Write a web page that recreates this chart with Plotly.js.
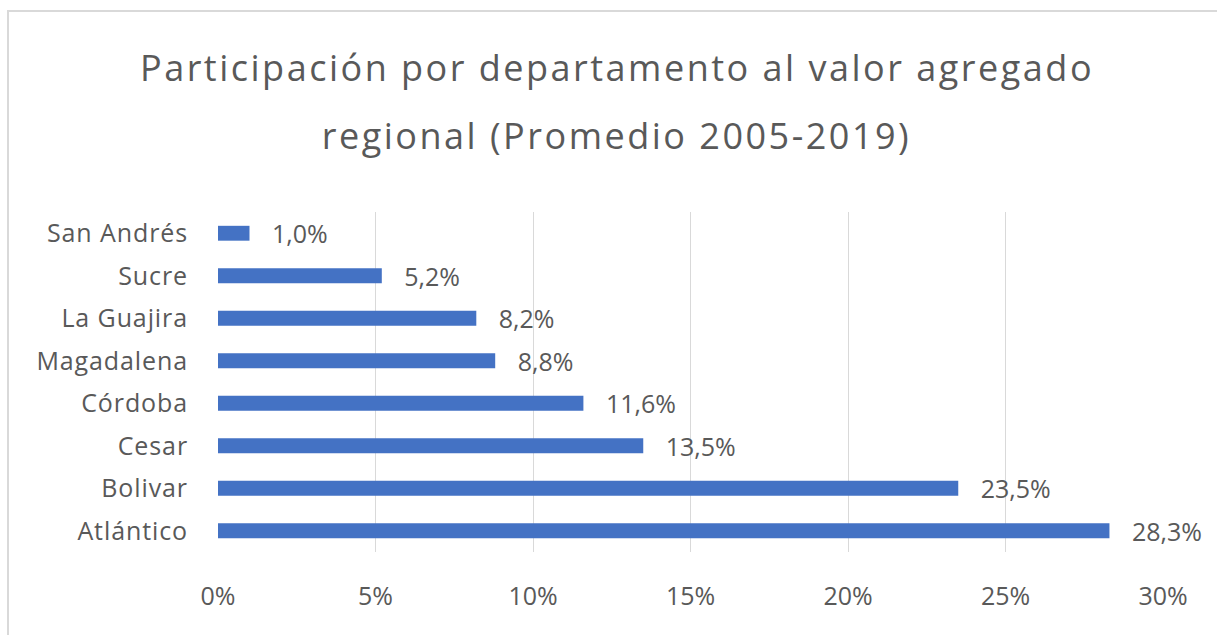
<!DOCTYPE html>
<html>
<head>
<meta charset="utf-8">
<script src="https://cdn.plot.ly/plotly-3.0.1.min.js"></script>
<style>
  html, body { margin: 0; padding: 0; background: #ffffff; }
  #wrap { position: relative; width: 1217px; height: 635px; overflow: hidden; }
  #frame { position: absolute; left: 7px; top: 10px; width: 1300px; height: 700px; border-left: 2px solid #d9d9d9; border-top: 2px solid #d9d9d9; pointer-events: none; }
  #chart { position: absolute; left: 0; top: 0; width: 1217px; height: 635px; }
  #chart .gtitle, #chart .annotation-text { letter-spacing: 2.5px; }
  #chart .ytick text { letter-spacing: 0.9px; }
</style>
</head>
<body>
<div id="wrap">
  <div id="chart"></div>
  <div id="frame"></div>
</div>
<script>
const departamentos = ["Atlántico", "Bolivar", "Cesar", "Córdoba", "Magadalena", "La Guajira", "Sucre", "San Andrés"];
const participacion = [28.3, 23.5, 13.5, 11.6, 8.8, 8.2, 5.2, 1.0];
const tickValores = [0, 5, 10, 15, 20, 25, 30];
const tituloLinea1 = "Participación por departamento al valor agregado";
const tituloLinea2 = "regional (Promedio 2005-2019)";

const gris = "#595959";
const fuente = "Open Sans, sans-serif";

const trace = {
  type: "bar",
  orientation: "h",
  y: departamentos,
  x: participacion,
  marker: { color: "#4472C4" },
  texttemplate: "\u00A0\u00A0\u00A0%{x:.1f}%",
  textposition: "outside",
  constraintext: "none",
  textfont: { family: fuente, size: 25, color: gris },
  cliponaxis: false,
  hoverinfo: "skip"
};

const layout = {
  width: 1217,
  height: 635,
  margin: { l: 218, r: 54, t: 212, b: 83 },
  paper_bgcolor: "#ffffff",
  plot_bgcolor: "#ffffff",
  showlegend: false,
  separators: ",.",
  bargap: 0.65,
  title: {
    text: tituloLinea1,
    font: { family: fuente, size: 36, color: gris },
    x: 0.507,
    xanchor: "center",
    xref: "container",
    y: 0.9126,
    yanchor: "top",
    yref: "container"
  },
  annotations: [{
    text: tituloLinea2,
    xref: "paper",
    yref: "paper",
    x: 0.422,
    y: 1.225,
    xanchor: "center",
    yanchor: "middle",
    showarrow: false,
    font: { family: fuente, size: 36, color: gris }
  }],
  xaxis: {
    range: [0, 30],
    tickvals: tickValores,
    ticktext: tickValores.map(v => v + "%"),
    showgrid: true,
    gridcolor: "#d9d9d9",
    gridwidth: 1,
    zeroline: false,
    showline: false,
    ticks: "outside",
    ticklen: 22,
    tickcolor: "rgba(0,0,0,0)",
    tickfont: { family: fuente, size: 25, color: gris },
    fixedrange: true
  },
  yaxis: {
    type: "category",
    categoryorder: "array",
    categoryarray: departamentos,
    showgrid: false,
    zeroline: false,
    showline: false,
    ticks: "outside",
    ticklen: 24,
    tickcolor: "rgba(0,0,0,0)",
    tickfont: { family: fuente, size: 25, color: gris },
    fixedrange: true
  }
};

Plotly.newPlot("chart", [trace], layout, { displayModeBar: false, staticPlot: true });
</script>
</body>
</html>
